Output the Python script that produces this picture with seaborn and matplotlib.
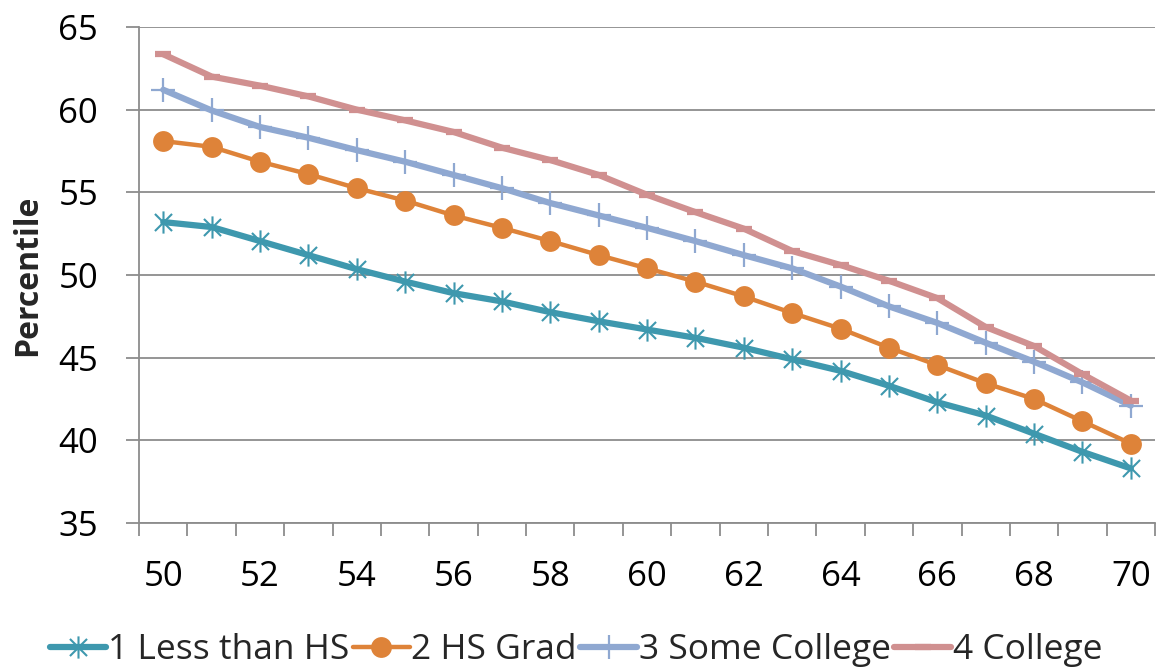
import numpy as np
import pandas as pd
import matplotlib
matplotlib.use("Agg")
import matplotlib.pyplot as plt
from matplotlib.path import Path
import seaborn as sns

ages = list(range(50, 71))
less_than_hs = [53.2, 52.9, 52.05, 51.2, 50.35, 49.6, 48.9, 48.4, 47.75, 47.2, 46.7,
                46.2, 45.6, 44.9, 44.2, 43.3, 42.3, 41.5, 40.4, 39.3, 38.3]
hs_grad = [58.1, 57.75, 56.85, 56.1, 55.25, 54.5, 53.6, 52.85, 52.05, 51.2, 50.4,
           49.6, 48.7, 47.7, 46.75, 45.6, 44.55, 43.45, 42.5, 41.15, 39.8]
some_college = [61.2, 59.95, 58.95, 58.3, 57.55, 56.85, 56.05, 55.25, 54.35, 53.6, 52.85,
                52.05, 51.2, 50.4, 49.3, 48.1, 47.1, 45.9, 44.75, 43.5, 42.1]
college = [63.35, 62.0, 61.45, 60.8, 60.0, 59.35, 58.65, 57.7, 56.95, 56.05, 54.85,
           53.8, 52.8, 51.45, 50.6, 49.65, 48.6, 46.85, 45.7, 44.0, 42.4]
series_names = ["1 Less than HS", "2 HS Grad", "3 Some College", "4 College"]
x_tick_labels = [str(v) for v in range(50, 71, 2)]
y_ticks = [35, 40, 45, 50, 55, 60, 65]

sns.set_theme(style="white")
plt.rcParams['font.family'] = ['Open Sans', 'DejaVu Sans']

# star marker: X plus vertical bar
star = Path([(-1, -1), (1, 1), (-1, 1), (1, -1), (0, -1.3), (0, 1.3)],
            [Path.MOVETO, Path.LINETO, Path.MOVETO, Path.LINETO, Path.MOVETO, Path.LINETO])

styles = [
    dict(color="#3E98AE", lw=4.5, marker=star, ms=16, mew=1.5),
    dict(color="#DE8339", lw=3.2, marker="o", ms=15, mew=0),
    dict(color="#8FA8D1", lw=4.5, marker="+", ms=17, mew=1.6),
    dict(color="#D09090", lw=4.5, marker="_", ms=11, mew=4.5),
]
data = [less_than_hs, hs_grad, some_college, college]

fig = plt.figure(figsize=(11.59, 6.71), dpi=100)
ax = fig.add_axes([0.12, 0.2206, 0.8766, 0.7392])

for name, vals, st in zip(series_names, data, styles):
    sns.lineplot(x=ages, y=vals, ax=ax, color=st["color"], linewidth=st["lw"],
                 marker=st["marker"], markersize=st["ms"], markeredgewidth=st["mew"],
                 markeredgecolor=st["color"], markerfacecolor=st["color"], label=name)

ax.set_xlim(49.5, 70.5)
ax.set_ylim(35, 65)
ax.set_yticks(y_ticks)
ax.set_xticks(list(range(50, 71, 2)))
ax.set_xticklabels(x_tick_labels)
ax.set_xticks(np.arange(49.5, 71, 1), minor=True)
ax.yaxis.grid(True, color="#8C8C8C", linewidth=1.3)
ax.set_axisbelow(True)
for s in ["top", "right"]:
    ax.spines[s].set_visible(False)
for s in ["left", "bottom"]:
    ax.spines[s].set_color("#8C8C8C")
    ax.spines[s].set_linewidth(1.3)
ax.tick_params(axis="x", which="major", length=0, pad=27, labelsize=25, labelcolor="black")
ax.tick_params(axis="x", which="minor", length=9, width=1.3, color="#8C8C8C", direction="out", bottom=True)
ax.tick_params(axis="y", which="major", length=9.5, width=1.3, color="#8C8C8C", direction="out",
               left=True, pad=20, labelsize=25, labelcolor="black")
ax.set_xlabel("")
ax.set_ylabel("Percentile", fontsize=23, fontweight="bold", labelpad=10)

ax.get_legend().remove()
handles, labels = ax.get_legend_handles_labels()
fig.legend(handles, labels, loc="center", bbox_to_anchor=(0.497, 0.031), ncol=4, frameon=False,
           fontsize=25.5, handlelength=1.6, handletextpad=0.05, columnspacing=0.1,
           borderpad=0, borderaxespad=0)

fig.savefig("out.png", dpi=100, facecolor="white")
